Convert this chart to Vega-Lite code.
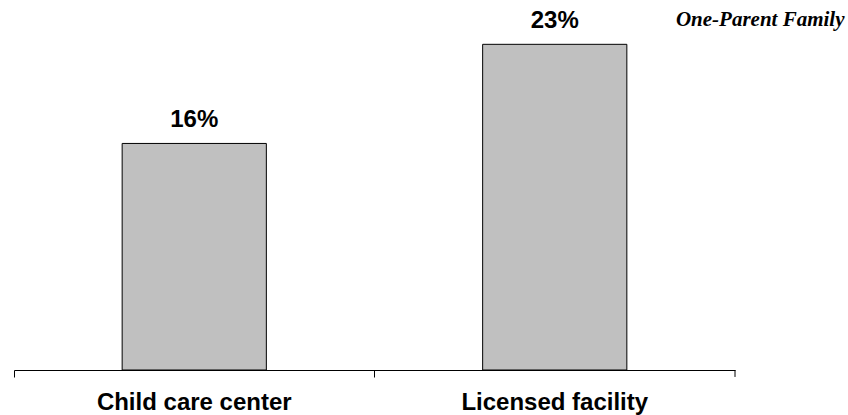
{
  "$schema": "https://vega.github.io/schema/vega-lite/v6.json",
  "width": 721,
  "height": 354,
  "autosize": "none",
  "padding": {"left": 14, "top": 16, "right": 113, "bottom": 45},
  "background": "white",
  "config": {"view": {"stroke": null}},
  "title": {
    "text": "One-Parent Family",
    "anchor": "end",
    "orient": "top",
    "font": "Liberation Serif",
    "fontSize": 21,
    "fontWeight": "bold",
    "fontStyle": "italic",
    "color": "black",
    "baseline": "alphabetic",
    "offset": 0,
    "dx": 109,
    "dy": 38
  },
  "data": {
    "values": [
      {"category": "Child care center", "value": 0.16},
      {"category": "Licensed facility", "value": 0.23}
    ]
  },
  "encoding": {
    "x": {
      "field": "category",
      "type": "nominal",
      "sort": null,
      "scale": {"paddingInner": 0, "paddingOuter": 0},
      "axis": {
        "title": null,
        "bandPosition": 0,
        "domainColor": "black",
        "domainWidth": 1,
        "tickColor": "black",
        "tickSize": 7,
        "tickWidth": 1,
        "labelAngle": 0,
        "labelFont": "Liberation Sans",
        "labelFontSize": 24,
        "labelFontWeight": "bold",
        "labelColor": "black",
        "labelBaseline": "alphabetic",
        "labelPadding": 32,
        "labelAlign": "center",
        "labelLimit": 400,
        "grid": false
      }
    }
  },
  "layer": [
    {
      "mark": {"type": "bar", "fill": "#C0C0C0", "stroke": "black", "strokeWidth": 1, "width": {"band": 0.4}},
      "encoding": {
        "y": {"field": "value", "type": "quantitative", "scale": {"domain": [0, 0.25], "nice": false, "zero": true}, "axis": null}
      }
    },
    {
      "mark": {"type": "text", "font": "Liberation Sans", "fontSize": 24, "fontWeight": "bold", "color": "black", "baseline": "alphabetic", "dy": -16},
      "encoding": {
        "y": {"field": "value", "type": "quantitative"},
        "text": {"field": "value", "type": "quantitative", "format": ".0%"}
      }
    },
    {
      "transform": [{"filter": "datum.category === 'Licensed facility'"}],
      "mark": {"type": "rule", "color": "black", "strokeWidth": 1},
      "encoding": {
        "x": {"field": "category", "type": "nominal", "sort": null, "bandPosition": 1},
        "y": {"datum": 0},
        "y2": {"datum": -0.0049}
      }
    }
  ]
}
